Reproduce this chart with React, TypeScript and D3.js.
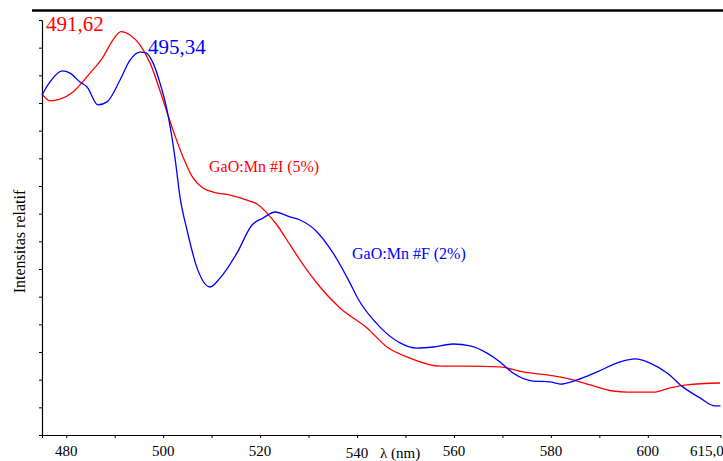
import React, { useEffect, useRef } from 'react';
import * as d3 from 'd3';

// wavelength (nm) and relative intensity
const redWavelength = [475.0, 476.65, 478.71, 481.4, 484.91, 487.59, 489.65, 491.3, 493.16, 495.22, 497.29, 499.97, 502.03, 504.1, 506.16, 508.22, 510.29, 513.8, 517.3, 519.37, 521.43, 523.49, 526.18, 529.68, 532.37, 536.49, 542.07, 546.19, 550.94, 557.13, 562.7, 569.51, 574.26, 579.21, 584.58, 588.09, 592.83, 595.72, 601.09, 604.6, 608.1, 614.91];
const redIntensity = [1.233, 1.208, 1.214, 1.24, 1.308, 1.366, 1.428, 1.458, 1.446, 1.41, 1.345, 1.211, 1.102, 1.005, 0.929, 0.893, 0.878, 0.867, 0.849, 0.835, 0.802, 0.759, 0.687, 0.596, 0.535, 0.459, 0.387, 0.318, 0.278, 0.249, 0.249, 0.246, 0.228, 0.217, 0.199, 0.181, 0.159, 0.155, 0.155, 0.17, 0.181, 0.188];

const blueWavelength = [475.0, 476.65, 479.13, 480.78, 482.84, 484.29, 486.56, 488.41, 491.1, 493.16, 495.22, 496.46, 497.91, 499.35, 500.79, 502.45, 503.48, 504.92, 506.99, 509.67, 511.73, 515.24, 518.33, 520.6, 523.08, 526.18, 528.24, 531.75, 535.05, 538.56, 540.0, 544.75, 548.88, 552.38, 555.68, 559.81, 563.32, 566.83, 569.51, 572.19, 576.32, 579.83, 581.89, 585.4, 589.53, 594.27, 597.37, 600.47, 603.97, 607.28, 610.78, 613.88, 615.0];
const blueIntensity = [1.229, 1.276, 1.316, 1.308, 1.276, 1.258, 1.193, 1.204, 1.283, 1.355, 1.384, 1.381, 1.345, 1.272, 1.175, 1.001, 0.86, 0.741, 0.604, 0.535, 0.567, 0.658, 0.759, 0.784, 0.806, 0.788, 0.777, 0.734, 0.658, 0.549, 0.499, 0.39, 0.333, 0.314, 0.318, 0.329, 0.322, 0.296, 0.264, 0.224, 0.195, 0.192, 0.184, 0.199, 0.228, 0.264, 0.275, 0.26, 0.224, 0.173, 0.134, 0.105, 0.105];

const xTicks = [475, 480, 490, 500, 510, 520, 530, 540, 550, 560, 570, 580, 590, 600, 615];
const xTickLabels = ['480', '500', '520', '540', '560', '580', '600'];
const yTicks = d3.range(0, 1.501, 0.1);

const width = 723;
const height = 461;

const App = () => {
  const svgRef = useRef<SVGSVGElement>(null);

  useEffect(() => {
    const svg = d3.select(svgRef.current);
    svg.selectAll('*').remove();

    const x = d3.scaleLinear().domain([475, 615]).range([42, 720.5]);
    const y = d3.scaleLinear().domain([0, 1.5]).range([435, 20]);

    // top border line
    svg.append('line')
      .attr('x1', 32).attr('x2', width)
      .attr('y1', 10.5).attr('y2', 10.5)
      .attr('stroke', '#000').attr('stroke-width', 2.5);

    const yAxis = svg.append('g')
      .attr('transform', 'translate(42,0)')
      .call(d3.axisLeft(y).tickValues(yTicks).tickSize(3).tickFormat(() => '').tickSizeOuter(0));
    yAxis.select('.domain').attr('stroke-width', 1.2);

    const xAxis = svg.append('g')
      .attr('transform', 'translate(0,435)')
      .call(d3.axisBottom(x).tickValues(xTicks).tickSize(3).tickFormat(() => '').tickSizeOuter(0));
    xAxis.select('.domain').attr('stroke-width', 1.2);

    const font = 'Liberation Serif, Times New Roman, serif';

    svg.append('g').selectAll('text')
      .data(xTickLabels)
      .join('text')
      .attr('x', d => x(+d))
      .attr('y', d => (d === '540' ? 458 : 456))
      .attr('text-anchor', 'middle')
      .style('font-family', font)
      .attr('font-size', 15)
      .text(d => d);

    svg.append('text')
      .attr('x', 690).attr('y', 456)
      .style('font-family', font).attr('font-size', 15)
      .text('615,0');

    svg.append('text')
      .attr('x', 380).attr('y', 458)
      .style('font-family', font).attr('font-size', 15)
      .text('λ (nm)');

    svg.append('text')
      .attr('transform', 'translate(25,241.5) rotate(-90)')
      .attr('text-anchor', 'middle')
      .style('font-family', font).attr('font-size', 16)
      .text('Intensitas relatif');

    const line = d3.line<[number, number]>()
      .x(d => x(d[0]))
      .y(d => y(d[1]))
      .curve(d3.curveMonotoneX);

    const red = redWavelength.map((w, i) => [w, redIntensity[i]] as [number, number]);
    const blue = blueWavelength.map((w, i) => [w, blueIntensity[i]] as [number, number]);

    svg.append('path').datum(red)
      .attr('fill', 'none').attr('stroke', '#ff0000').attr('stroke-width', 1.3)
      .attr('d', line);

    svg.append('path').datum(blue)
      .attr('fill', 'none').attr('stroke', '#0000ff').attr('stroke-width', 1.3)
      .attr('d', line);

    svg.append('text')
      .attr('x', 46).attr('y', 31)
      .attr('fill', '#ff0000').style('font-family', font).attr('font-size', 21)
      .text('491,62');

    svg.append('text')
      .attr('x', 148).attr('y', 54)
      .attr('fill', '#0000ff').style('font-family', font).attr('font-size', 21)
      .text('495,34');

    svg.append('text')
      .attr('x', 209).attr('y', 172)
      .attr('fill', '#ff0000').style('font-family', font).attr('font-size', 16)
      .text('GaO:Mn #I (5%)');

    svg.append('text')
      .attr('x', 352).attr('y', 259)
      .attr('fill', '#0000ff').style('font-family', font).attr('font-size', 16)
      .text('GaO:Mn #F (2%)');
  }, []);

  return (
    <svg
      ref={svgRef}
      width={width}
      height={height}
      style={{ position: 'absolute', left: 0, top: 0, background: '#fff' }}
    />
  );
};

export default App;
